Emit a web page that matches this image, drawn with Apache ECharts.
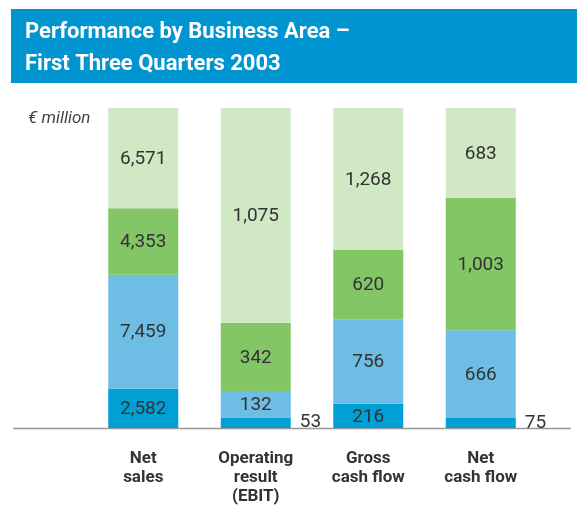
<!DOCTYPE html>
<html>
<head>
<meta charset="utf-8">
<script src="https://cdn.jsdelivr.net/npm/echarts@6/dist/echarts.min.js"></script>
<style>
  html, body { margin: 0; padding: 0; background: #fff; }
  #chart { width: 577px; height: 506px; }
</style>
</head>
<body>
<div id="chart"></div>
<script>
// categories and segment values (bottom -> top), € million
var categories = ['Net\nsales', 'Operating\nresult\n(EBIT)', 'Gross\ncash flow', 'Net\ncash flow'];
var segA = [2582, 53, 216, 75];     // bottom, dark blue
var segB = [7459, 132, 756, 666];   // light blue
var segC = [4353, 342, 620, 1003];  // green
var segD = [6571, 1075, 1268, 683]; // top, pale green

var colors = ['#009fd6', '#6dbde4', '#83c666', '#d0e8c4'];
var segments = [segA, segB, segC, segD];

var totals = categories.map(function (c, i) {
  return segA[i] + segB[i] + segC[i] + segD[i];
});

function fmt(v) {
  return String(v).replace(/\B(?=(\d{3})+(?!\d))/g, ',');
}

var chart = echarts.init(document.getElementById('chart'));

var series = segments.map(function (seg, s) {
  return {
    type: 'bar',
    stack: 'all',
    barWidth: 70,
    itemStyle: { color: colors[s] },
    label: {
      show: true,
      position: 'inside',
      color: '#333',
      fontSize: 19,
      fontFamily: 'Roboto',
      offset: [0, 1],
      formatter: function (p) { return fmt(seg[p.dataIndex]); }
    },
    data: seg.map(function (v, i) {
      var pct = v / totals[i] * 100;
      var item = { value: pct };
      if (pct < 5) {
        // too thin for the number, put it beside the bar
        item.label = { position: 'right', offset: [1, 0], distance: 8 };
      }
      return item;
    })
  };
});

var option = {
  animation: false,
  grid: { left: 87, right: 40, top: 108, bottom: 78 },
  xAxis: {
    type: 'category',
    data: categories,
    axisLine: { show: false },
    axisTick: { show: false },
    axisLabel: {
      margin: 21,
      color: '#333',
      fontSize: 17,
      fontWeight: 'bold',
      fontFamily: 'Roboto',
      lineHeight: 19
    }
  },
  yAxis: {
    type: 'value',
    min: 0,
    max: 100,
    show: false
  },
  series: series,
  graphic: [
    {
      type: 'rect',
      shape: { x: 11, y: 9, width: 566, height: 74 },
      style: { fill: '#0094d0' }
    },
    {
      type: 'text',
      left: 25,
      top: 16,
      style: {
        text: 'Performance by Business Area –\nFirst Three Quarters 2003',
        fill: '#fff',
        font: 'bold 22px Roboto',
        lineHeight: 32
      }
    },
    {
      type: 'text',
      left: 28,
      top: 110,
      style: {
        text: '€ million',
        fill: '#444',
        font: 'italic 17px Roboto'
      }
    },
    {
      type: 'line',
      shape: { x1: 13, y1: 428.5, x2: 571, y2: 428.5 },
      style: { stroke: '#999', lineWidth: 1.5 }
    }
  ]
};

chart.setOption(option);
</script>
</body>
</html>
